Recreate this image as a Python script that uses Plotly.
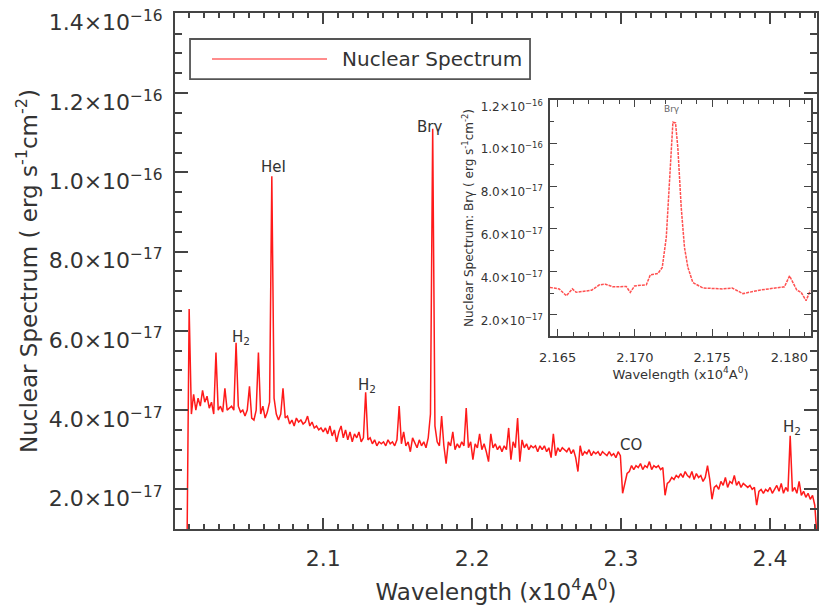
import numpy as np
import plotly.graph_objects as go

# ---------------- data (flux in units of 1e-17 erg s^-1 cm^-2) ----------------
WAVE_START = 2.0085   # x10^4 Angstrom
WAVE_STEP = 0.0015
flux_nuclear = [
    0.3, 6.55, 3.9, 4.4, 4.0, 4.3, 4.1, 4.5, 4.2, 4.35,
    4.05, 4.2, 3.9, 5.45, 4.0, 4.1, 3.95, 4.55, 4.0, 4.05,
    4.1, 4.0, 5.7, 4.1, 3.95, 4.0, 3.85, 4.0, 4.6, 3.8,
    3.75, 4.0, 5.45, 3.9, 4.1, 3.8, 3.95, 4.2, 9.9, 4.3,
    3.9, 3.75, 3.9, 4.55, 3.8, 3.85, 3.65, 3.75, 3.6, 3.8,
    3.7, 3.75, 3.65, 3.7, 3.85, 3.6, 3.7, 3.55, 3.6, 3.5,
    3.55, 3.45, 3.55, 3.4, 3.6, 3.35, 3.5, 3.2, 3.45, 3.6,
    3.3, 3.5, 3.25, 3.45, 3.2, 3.4, 3.3, 3.45, 3.2, 3.3,
    4.45, 3.25, 3.3, 3.15, 3.25, 3.1, 3.2, 3.15, 3.2, 3.1,
    3.25, 3.15, 3.2, 3.1, 3.25, 4.1, 3.15, 3.45, 3.1, 3.2,
    2.95, 3.3, 3.15, 3.05, 3.25, 3.1, 3.2, 3.05, 3.3, 3.9,
    11.1, 3.6, 3.2, 3.1, 3.85, 3.1, 2.65, 3.2, 3.1, 3.45,
    3.0, 3.15, 3.05, 3.2, 3.1, 4.05, 3.05, 3.2, 2.75, 3.15,
    3.05, 3.4, 3.0, 3.15, 2.95, 2.7, 3.4, 3.05, 3.15, 3.0,
    3.1, 2.95, 3.1, 3.0, 3.55, 2.75, 3.2, 3.05, 3.8, 2.7,
    3.25, 3.05, 3.15, 3.0, 3.1, 3.05, 3.1, 2.95, 3.1, 3.0,
    3.1, 2.95, 3.05, 2.8, 3.4, 2.85, 3.05, 2.95, 3.05, 3.0,
    2.95, 3.05, 2.9, 3.0, 2.8, 2.45, 3.1, 2.85, 2.95, 2.9,
    3.0, 2.85, 2.95, 2.9, 2.95, 2.85, 2.95, 2.9, 2.85, 2.95,
    2.85, 2.9, 2.8, 2.95, 2.85, 1.9, 2.2, 2.4, 2.45, 2.6,
    2.5, 2.6, 2.55, 2.65, 2.5, 2.6, 2.55, 2.7, 2.5, 2.6,
    2.55, 2.6, 2.5, 2.55, 1.85, 2.15, 2.2, 2.3, 2.25, 2.35,
    2.3, 2.4, 2.3, 2.45, 2.35, 2.3, 2.45, 2.25, 2.4, 2.3,
    2.35, 2.2, 2.3, 2.6, 2.25, 1.75, 2.05, 2.1, 2.0, 2.2,
    2.1, 2.3, 2.05, 2.2, 2.15, 2.35, 2.1, 2.2, 2.05, 2.15,
    2.1, 2.05, 2.1, 2.0, 2.05, 1.6, 1.95, 2.0, 1.9, 2.0,
    1.95, 2.05, 1.9, 2.0, 2.1, 1.95, 2.15, 1.9, 2.05, 1.95,
    3.35, 1.95, 2.05, 1.9, 2.2, 1.85, 1.95, 1.8, 1.9, 1.75,
    1.85, 1.6, 0.8,
]
wave_nuclear = WAVE_START + WAVE_STEP * np.arange(len(flux_nuclear))

# Br-gamma zoom (inset)
wave_brg = [2.1645, 2.1651, 2.16556, 2.16595, 2.1662, 2.1668, 2.1672, 2.1677, 2.1681,
            2.16856, 2.16944, 2.1697, 2.16998, 2.17074, 2.1710, 2.17149, 2.17177,
            2.17203, 2.17229, 2.17246, 2.17263, 2.17278, 2.1730, 2.17321, 2.17343,
            2.17375, 2.1744, 2.1757, 2.1763, 2.17699, 2.17806, 2.17893, 2.17968,
            2.18001, 2.18027, 2.18048, 2.18076, 2.18108, 2.18135]
flux_brg = [3.27, 3.2, 2.88, 3.2, 3.04, 3.12, 3.14, 3.39, 3.42,
            3.3, 3.31, 3.04, 3.34, 3.39, 3.86, 3.92, 4.2,
            5.6, 9.0, 10.98, 10.95, 9.78, 6.99, 5.13, 4.2,
            3.5, 3.24, 3.2, 3.24, 2.98, 3.14, 3.24, 3.3,
            3.81, 3.42, 3.14, 3.04, 2.65, 3.12]

# tick labels (y values are in units of 1e-17)
ytick_alias = {"2": "2.0×10<sup>−17</sup>", "4": "4.0×10<sup>−17</sup>",
               "6": "6.0×10<sup>−17</sup>", "8": "8.0×10<sup>−17</sup>",
               "10": "1.0×10<sup>−16</sup>", "12": "1.2×10<sup>−16</sup>",
               "14": "1.4×10<sup>−16</sup>"}

line_labels = ["H<sub>2</sub>", "HeI", "H<sub>2</sub>", "Brγ", "CO", "H<sub>2</sub>"]
line_label_x = [2.0450, 2.0664, 2.1295, 2.1711, 2.3067, 2.4148]
line_label_y = [5.82, 10.14, 4.61, 11.15, 3.12, 3.55]

# ---------------- figure ----------------
FONT = "DejaVu Sans"
TXT = "#333333"
AX = "#444444"

fig = go.Figure()
fig.add_trace(go.Scatter(x=wave_nuclear, y=flux_nuclear, mode="lines",
                         line=dict(color="#ff1a1a", width=1.5),
                         name="Nuclear Spectrum", showlegend=False,
                         xaxis="x", yaxis="y"))
fig.add_trace(go.Scatter(x=wave_brg, y=flux_brg, mode="lines",
                         line=dict(color="#ff5050", width=1.5, dash="3px,1px"),
                         showlegend=False, xaxis="x2", yaxis="y2"))

common_axis = dict(showgrid=False, zeroline=False, showline=True, linecolor=AX,
                   linewidth=2, ticks="inside", mirror="allticks", tickcolor=AX,
                   automargin=False, tickmode="linear", ticklabeloverflow="allow")

# page body has an 8px default margin -> figure is 8px smaller and margins shifted
fig.update_layout(
    width=821, height=606,
    margin=dict(l=167, r=12, t=5, b=85, autoexpand=False),
    paper_bgcolor="white", plot_bgcolor="white",
    font=dict(family=FONT, color=TXT),
    xaxis=dict(domain=[0, 1], range=[2.0005, 2.4315], tick0=2.0, dtick=0.1,
               tickformat=".1f",
               ticklen=11, tickwidth=1.5, tickfont=dict(size=22, color=TXT),
               ticklabelstandoff=9,
               minor=dict(tickmode="linear", tick0=2.0, dtick=0.01, ticks="inside",
                          ticklen=5, tickwidth=1.5, tickcolor=AX),
               title=dict(text="Wavelength (x10<sup>4</sup>A<sup>0</sup>)",
                          font=dict(size=23, color=TXT), standoff=13),
               **common_axis),
    yaxis=dict(domain=[0, 1], range=[1, 14.02], tick0=0, dtick=2, labelalias=ytick_alias,
               ticklen=13, tickwidth=1.5, tickfont=dict(size=22, color=TXT),
               ticklabelshift=9, ticklabelstandoff=6,
               minor=dict(tickmode="linear", tick0=0, dtick=0.5, ticks="inside",
                          ticklen=7, tickwidth=1.5, tickcolor=AX),
               title=dict(text="Nuclear Spectrum ( erg s<sup>-1</sup>cm<sup>-2</sup>)",
                          font=dict(size=23, color=TXT), standoff=5),
               **common_axis),
    xaxis2=dict(domain=[0.584, 0.9907], anchor="y2", range=[2.1645, 2.1814],
                tick0=2.165, dtick=0.005, tickformat=".3f",
                ticklen=7, tickwidth=1, tickfont=dict(size=13, color=TXT),
                ticklabelstandoff=9,
                minor=dict(tickmode="linear", tick0=2.165, dtick=0.001, ticks="inside",
                           ticklen=4, tickwidth=1, tickcolor=AX),
                title=dict(text="Wavelength (x10<sup>4</sup>A<sup>0</sup>)",
                           font=dict(size=13, color=TXT), standoff=0),
                **{**common_axis, "linewidth": 1.5}),
    yaxis2=dict(domain=[0.374, 0.8314], anchor="x2", range=[1, 12.02],
                tick0=0, dtick=2, labelalias=ytick_alias,
                ticklen=7, tickwidth=1, tickfont=dict(size=12, color=TXT),
                ticklabelshift=6, ticklabelstandoff=3,
                minor=dict(tickmode="linear", tick0=0, dtick=1, ticks="inside",
                           ticklen=4, tickwidth=1, tickcolor=AX),
                title=dict(text="Nuclear Spectrum: Brγ ( erg s<sup>-1</sup>cm<sup>-2</sup>)",
                           font=dict(size=12, color=TXT), standoff=4),
                **{**common_axis, "linewidth": 1.5}),
)

# spectral line labels
for t, x, y in zip(line_labels, line_label_x, line_label_y):
    fig.add_annotation(x=x, y=y, xref="x", yref="y", text=t, showarrow=False,
                       font=dict(size=15, color=TXT), xanchor="center", yanchor="middle")
fig.add_annotation(x=2.17237, y=11.58, xref="x2", yref="y2", text="Brγ", showarrow=False,
                   font=dict(size=9, color="#666666"), xanchor="center", yanchor="middle")

# legend box (drawn)
fig.add_shape(type="rect", xref="paper", yref="paper", x0=0.0234, x1=0.553, y0=0.872, y1=0.9496,
              line=dict(color="#555555", width=1.8), fillcolor="white")
fig.add_shape(type="line", xref="paper", yref="paper", x0=0.0576, x1=0.2368, y0=0.9109, y1=0.9109,
              line=dict(color="#ff1a1a", width=1.2))
fig.add_annotation(x=0.257, y=0.9109, xref="paper", yref="paper", text="Nuclear Spectrum",
                   showarrow=False, xanchor="left", yanchor="middle",
                   font=dict(size=20, color=TXT))

fig.write_html("out.html")
